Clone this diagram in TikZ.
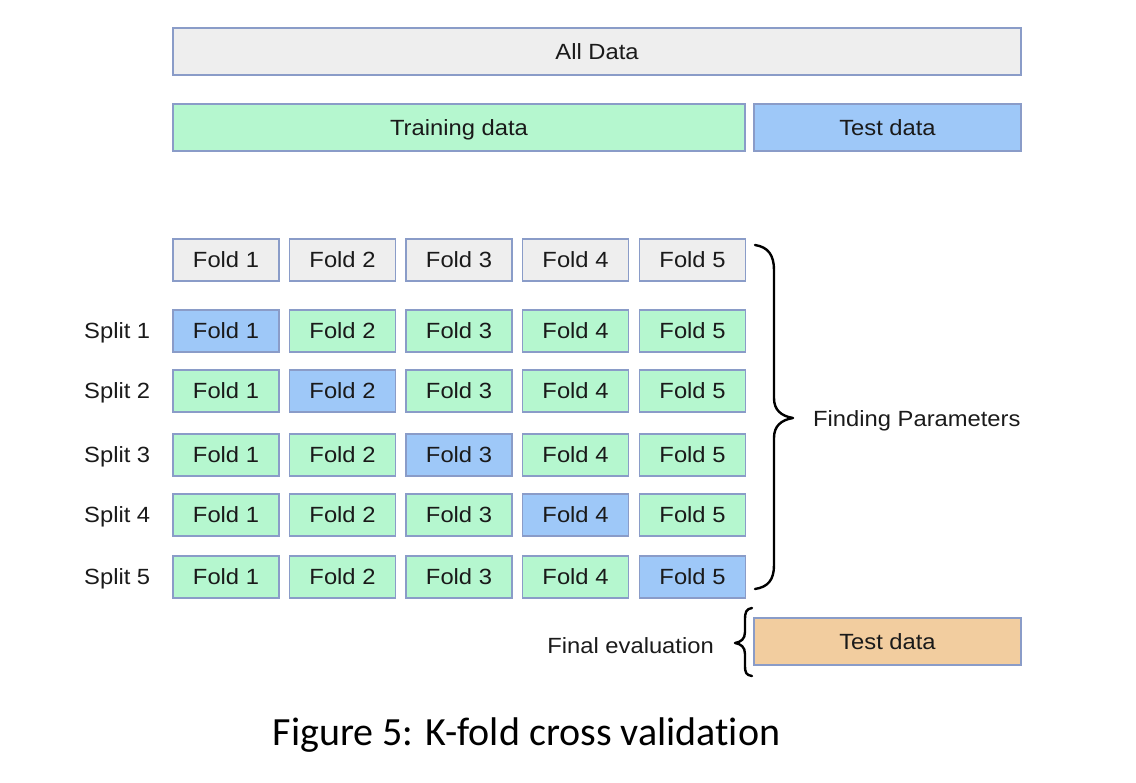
\documentclass[tikz,border=0pt]{standalone}
\usepackage{fontspec}
\setmainfont{Liberation Sans}[FakeStretch=1.08]
\newfontfamily\capfont{Carlito}[Ligatures=NoCommon]
\definecolor{grayfill}{HTML}{EEEEEE}
\definecolor{greenfill}{HTML}{B5F7CF}
\definecolor{bluefill}{HTML}{9EC8F8}
\definecolor{orangefill}{HTML}{F2CD9F}
\definecolor{edgecol}{HTML}{8A9CC8}
\definecolor{txt}{HTML}{1A1A1A}
\tikzset{
  box/.style={draw=edgecol, line width=1.2pt, inner sep=0pt, text=txt, font=\fontsize{22}{26}\selectfont, text height=15.8pt, text depth=0pt},
  fold/.style={box, minimum width=106pt, minimum height=42pt},
  bar/.style={box, minimum height=47pt},
  lab/.style={text=txt, inner sep=0pt, font=\fontsize{22}{26}\selectfont, text height=15.8pt, text depth=0pt},
  bracestyle/.style={line width=2.4pt, line cap=round, line join=round}
}
\begin{document}
\begin{tikzpicture}[x=1pt,y=-1pt]
\useasboundingbox (0,0) rectangle (1136,783);
\node[bar, fill=grayfill, minimum width=848pt] (all) at (597,51.5) {All Data};
\node[bar, fill=greenfill, minimum width=572pt] (train) at (459,127.5) {Training data};
\node[bar, fill=bluefill, minimum width=267pt] (test) at (887.5,127.5) {Test data};
\foreach \c/\x in {1/226,2/342.5,3/459,4/575.5,5/692.5}
  \node[fold, fill=grayfill] (h\c) at (\x,260) {Fold \c};
\foreach \r/\y in {1/331,2/391,3/455,4/515,5/577}{
  \node[lab, anchor=west] (sl\r) at (84,\y) {Split \r};
  \foreach \c/\x in {1/226,2/342.5,3/459,4/575.5,5/692.5}{
    \ifnum\c=\r\def\fc{bluefill}\else\def\fc{greenfill}\fi
    \node[fold, fill=\fc] (s\r f\c) at (\x,\y) {Fold \c};
  }
}
% right brace
\draw[bracestyle] (755,245) .. controls (768,247) and (774,255) .. (774,270)
  -- (774,398) .. controls (774,410) and (781,416) .. (793,418)
  .. controls (781,420) and (774,426) .. (774,438)
  -- (774,565) .. controls (774,580) and (768,587) .. (755,589);
\begin{scope}
\clip (800,400) rectangle (1023,440);
\node[lab, anchor=west] (fp) at (813,419) {Finding Parameters};
\end{scope}
% final evaluation
\node[bar, fill=orangefill, minimum width=267pt] (test2) at (887.5,641.5) {Test data};
\draw[bracestyle] (752,608) .. controls (746,609) and (745,612) .. (745,620)
  -- (745,632) .. controls (745,639) and (741,642) .. (735,643)
  .. controls (741,644) and (745,647) .. (745,654)
  -- (745,665) .. controls (745,673) and (746,675) .. (752,676);
\node[lab, anchor=east] (fe) at (714,646) {Final evaluation};
\node[inner sep=0pt, font=\capfont\fontsize{40}{48}\selectfont] (cap) at (526.5,735) {Figure 5: K-fold cross validation};
\end{tikzpicture}
\end{document}
